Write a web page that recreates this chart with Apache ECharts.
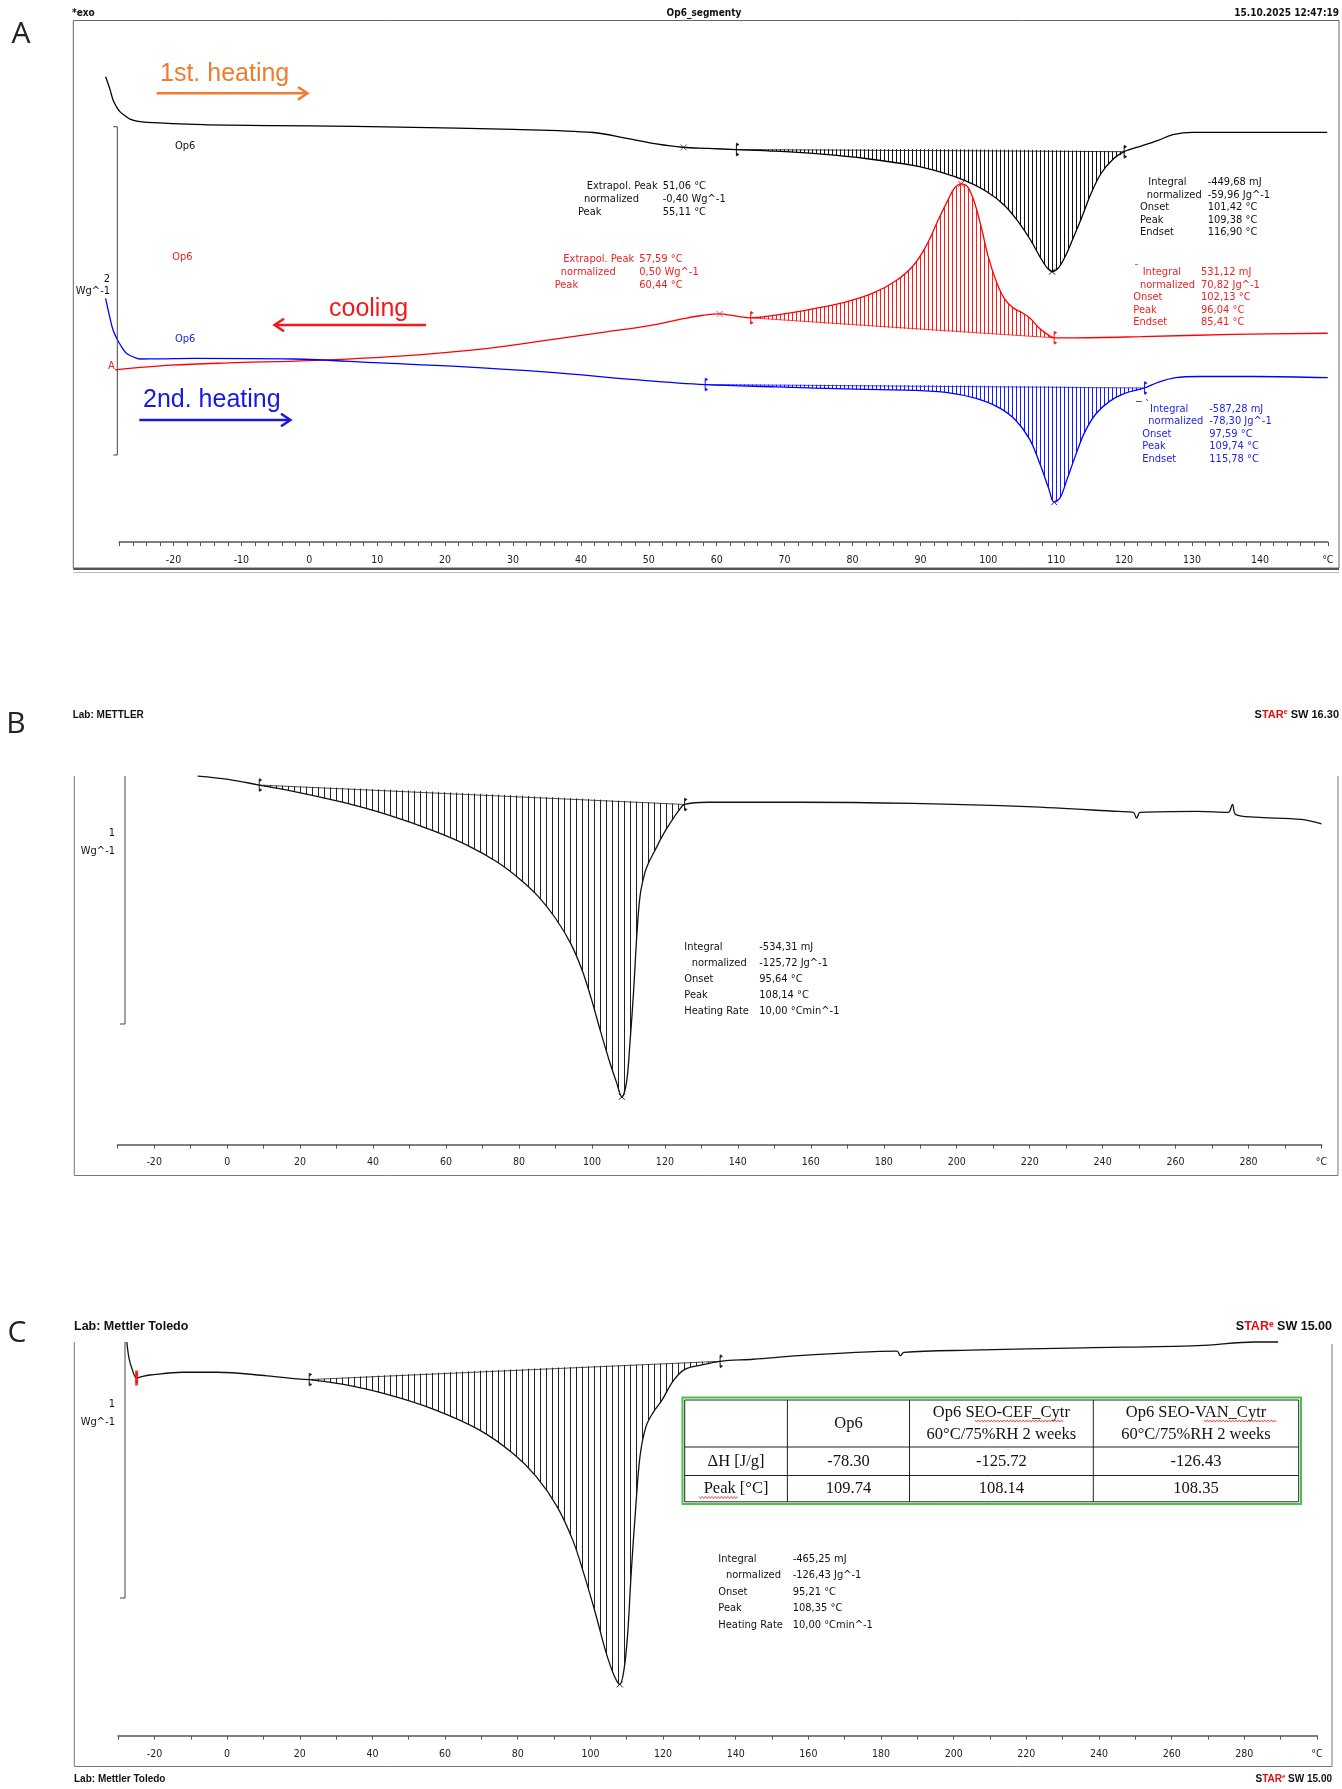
<!DOCTYPE html>
<html><head><meta charset="utf-8">
<script src="https://cdn.jsdelivr.net/npm/echarts@6/dist/echarts.min.js"></script>
<style>html,body{margin:0;padding:0;background:#fff;}#c{width:1342px;height:1789px;}</style>
</head><body><div id="c"></div>
<script>
// ---------- DATA (temperature in °C, heat flow in W/g with display offset) ----------
// Panel A – 1st heating (black)
const tempA1 = [-30.0,-29.4,-28.9,-28.4,-27.9,-27.1,-26.4,-25.2,-23.9,-15.6,-11.9,0,13.3,30.1,41.8,46.6,51.1,55.0,58.7,62.9,68.7,75.5,82.2,88.9,93.1,96.5,99.8,102.4,104.5,106.2,107.7,108.7,109.4,110.3,111.3,112.4,113.8,115.1,116.6,118.3,120.0,122.5,125.0,127.2,130.1,136.0,149.9];
const flowA1 = [2.837,2.766,2.695,2.654,2.624,2.598,2.579,2.565,2.559,2.545,2.542,2.537,2.530,2.516,2.497,2.463,2.428,2.407,2.400,2.393,2.383,2.365,2.337,2.296,2.254,2.205,2.136,2.052,1.948,1.843,1.732,1.670,1.649,1.670,1.739,1.843,1.983,2.122,2.247,2.331,2.380,2.414,2.449,2.484,2.498,2.498,2.498];
// Panel A – cooling (red)
const tempA2 = [-28.6,-20.3,-11.9,0,13.3,25.0,35.1,43.5,50.3,55.3,57.8,60.3,62.9,65.0,68.7,73.8,78.8,83.0,86.4,88.9,90.9,92.6,94.0,95.0,96.0,97.0,98.0,99.0,100.0,101.2,102.4,103.7,105.0,106.2,107.4,108.7,109.7,112.4,122.5,136.0,150.0];
const flowA2 = [1.050,1.078,1.092,1.106,1.134,1.175,1.231,1.280,1.321,1.363,1.381,1.391,1.377,1.367,1.384,1.419,1.461,1.517,1.593,1.683,1.809,1.962,2.080,2.157,2.184,2.163,2.066,1.913,1.739,1.586,1.482,1.426,1.398,1.363,1.308,1.266,1.245,1.245,1.252,1.266,1.273];
// Panel A – 2nd heating (blue)
const tempA3 = [-30.0,-29.4,-28.9,-28.1,-27.4,-26.9,-25.9,-24.9,-22.0,-17.1,-2.4,10.4,21.7,35.1,48.6,58.3,68.7,80.5,88.9,94.0,98.2,101.5,104.0,106.1,107.7,108.9,109.7,110.6,111.6,112.8,114.1,115.8,117.8,120.0,123.0,125.0,127.6,130.9,139.3,150.0];
const flowA3 = [1.486,1.374,1.293,1.221,1.175,1.150,1.128,1.116,1.117,1.120,1.116,1.092,1.071,1.036,0.988,0.960,0.946,0.932,0.925,0.911,0.876,0.821,0.744,0.626,0.466,0.326,0.243,0.271,0.383,0.522,0.661,0.779,0.856,0.905,0.939,0.974,1.002,1.009,1.009,1.002];
// Panel B
const tempB = [-8.1,0.3,8.8,19.1,31.6,44.1,56.6,66.0,73.8,80.1,85.4,90.1,94.2,97.3,99.8,102.3,104.8,106.7,108.2,109.5,110.4,111.4,112.3,113.2,114.5,115.7,117.3,119.2,121.7,123.9,125.4,131.7,156.8,188.0,219.3,244.3,248.4,249.3,250.3,266.2,274.4,275.6,276.5,281.9,294.4,300.0];
const flowB = [1.480,1.467,1.444,1.416,1.375,1.324,1.260,1.201,1.137,1.068,0.995,0.907,0.807,0.701,0.587,0.458,0.335,0.252,0.192,0.252,0.403,0.610,0.839,0.999,1.091,1.137,1.182,1.237,1.297,1.343,1.366,1.375,1.375,1.370,1.357,1.338,1.334,1.311,1.334,1.338,1.334,1.366,1.325,1.315,1.306,1.288];
// Panel C
const tempC = [-27.6,-27.0,-26.1,-24.9,-23.2,-21.2,-12.3,-2.8,11.0,20.1,22.6,31.7,44.3,56.9,69.4,78.8,85.1,90.8,95.2,98.3,101.5,104.3,106.5,108.1,109.3,110.3,111.2,112.5,113.7,115.3,117.2,119.7,122.8,126.0,130.7,135.7,144.8,157.4,173.1,184.4,185.3,186.3,204.5,235.9,267.3,283.0,289.3];
const flowC = [1.550,1.487,1.442,1.408,1.415,1.420,1.431,1.431,1.417,1.404,1.402,1.384,1.343,1.285,1.204,1.110,1.020,0.903,0.768,0.633,0.476,0.328,0.238,0.202,0.265,0.409,0.633,0.903,1.105,1.217,1.271,1.321,1.397,1.442,1.460,1.474,1.482,1.496,1.509,1.514,1.496,1.509,1.518,1.527,1.536,1.550,1.550];
// integration limits (°C)
const hatchA1 = [62.9, 120.0];
const hatchA2 = [65.0, 109.7];
const hatchA3 = [58.3, 123.0];
const hatchB = [8.8, 125.4];
const hatchC = [22.6, 135.7];
// extra peak marks
const extraPeakA1 = [55.11];
const extraPeakA2 = [60.44];
const startMarkC = [-24.9];
// axis label settings
const unitLabel = '°C';
// table
const tableHead = ['', 'Op6', 'Op6 SEO-CEF_Cytr\n60°C/75%RH 2 weeks', 'Op6 SEO-VAN_Cytr\n60°C/75%RH 2 weeks'];
const tableRow1 = ['ΔH [J/g]', '-78.30', '-125.72', '-126.43'];
const tableRow2 = ['Peak [°C]', '109.74', '108.14', '108.35'];

// ---------- helpers ----------
function zip(t, v) { return t.map((x, i) => [x, v[i]]); }
function interp(t, ts, vs) {
  if (t <= ts[0]) return vs[0];
  for (let i = 1; i < ts.length; i++) {
    if (t <= ts[i]) { const f = (t - ts[i-1]) / (ts[i] - ts[i-1]); return vs[i-1] + f * (vs[i] - vs[i-1]); }
  }
  return vs[vs.length - 1];
}
function pattern(step, color) {
  const c = document.createElement('canvas'); c.width = step; c.height = 4;
  const ctx = c.getContext('2d'); ctx.fillStyle = color; ctx.fillRect(0, 0, 1, 4);
  return { image: c, repeat: 'repeat' };
}
const LABEL_FONT = '"Liberation Sans Narrow","DejaVu Sans Condensed",sans-serif';
const ANN_FONT = '11px "DejaVu Sans Condensed","DejaVu Sans",sans-serif';

function lineSeries(idx, ts, vs, color) {
  return { type: 'line', xAxisIndex: idx, yAxisIndex: idx, data: zip(ts, vs), showSymbol: false, symbol: 'none',
    smooth: 0.35, clip: false, silent: true, z: 3,
    lineStyle: { color: color, width: 1.3 } };
}
function hatchSeries(idx, ts, vs, range, color, step) {
  const pat = pattern(step, color);
  return { type: 'custom', xAxisIndex: idx, yAxisIndex: idx, coordinateSystem: 'cartesian2d',
    data: [[range[0], 0]], silent: true, clip: false, z: 2,
    renderItem: function (params, api) {
      const t0 = range[0], t1 = range[1];
      const v0 = interp(t0, ts, vs), v1 = interp(t1, ts, vs);
      const pts = [api.coord([t0, v0])];
      let best = null, bestD = -1;
      for (let i = 0; i < ts.length; i++) {
        if (ts[i] > t0 && ts[i] < t1) {
          pts.push(api.coord([ts[i], vs[i]]));
          const base = v0 + (v1 - v0) * (ts[i] - t0) / (t1 - t0);
          const d = Math.abs(vs[i] - base);
          if (d > bestD) { bestD = d; best = api.coord([ts[i], vs[i]]); }
        }
      }
      const p0 = api.coord([t0, v0]), p1 = api.coord([t1, v1]);
      pts.push(p1);
      const kids = [
        { type: 'polygon', shape: { points: pts, smooth: 0.35 }, style: { fill: pat, stroke: null } },
        { type: 'line', shape: { x1: p0[0], y1: p0[1], x2: p1[0], y2: p1[1] }, style: { stroke: color, lineWidth: 0.8 } }
      ];
      [p0, p1].forEach(p => {
        kids.push({ type: 'line', shape: { x1: p[0], y1: p[1] - 6, x2: p[0], y2: p[1] + 6 }, style: { stroke: color, lineWidth: 1 } });
        kids.push({ type: 'polygon', shape: { points: [[p[0], p[1]-7], [p[0]+3, p[1]-5], [p[0], p[1]-3]] }, style: { fill: color } });
        kids.push({ type: 'polygon', shape: { points: [[p[0], p[1]+3], [p[0]+3, p[1]+5], [p[0], p[1]+7]] }, style: { fill: color } });
      });
      if (best) {
        kids.push({ type: 'line', shape: { x1: best[0]-3, y1: best[1]-3, x2: best[0]+3, y2: best[1]+3 }, style: { stroke: color, lineWidth: 1 } });
        kids.push({ type: 'line', shape: { x1: best[0]-3, y1: best[1]+3, x2: best[0]+3, y2: best[1]-3 }, style: { stroke: color, lineWidth: 1 } });
      }
      return { type: 'group', children: kids };
    } };
}
function markSeries(idx, temps, ts, vs, color, symbol, size) {
  return { type: 'scatter', xAxisIndex: idx, yAxisIndex: idx, silent: true, clip: false, z: 4,
    data: temps.map(t => [t, interp(t, ts, vs)]), symbol: symbol, symbolSize: size,
    itemStyle: { color: color, borderColor: color, borderWidth: 1 } };
}
function xAx(grid, min, max, interval, every, margin) {
  return { type: 'value', gridIndex: grid, min: min, max: max, interval: interval,
    axisLine: { show: true, onZero: false, lineStyle: { color: '#555', width: 1.5 } },
    axisTick: { show: true, length: 4, lineStyle: { color: '#555', width: 1 } },
    splitLine: { show: false },
    axisLabel: { interval: 0, margin: margin, color: '#222', fontSize: 10.5, fontFamily: LABEL_FONT,
      showMinLabel: true, showMaxLabel: true,
      formatter: function (v) { if (Math.abs(v - max) < 1e-6) return unitLabel; return (Math.round(v) % every === 0) ? String(Math.round(v)) : ''; } } };
}
function yAx(grid, max) { return { type: 'value', gridIndex: grid, min: 0, max: max, show: false }; }

function txt(x, y, text, font, fill, align) {
  return { type: 'text', x: x, y: y, silent: true, z: 10,
    style: { text: text, font: font, fill: fill || '#000', align: align || 'left', textAlign: align || 'left', verticalAlign: 'middle', textVerticalAlign: 'middle' } };
}
function ln(x1, y1, x2, y2, stroke, w) {
  return { type: 'line', silent: true, z: 10, shape: { x1: x1, y1: y1, x2: x2, y2: y2 }, style: { stroke: stroke, lineWidth: w || 1 } };
}
function pl(points, stroke, w) {
  return { type: 'polyline', silent: true, z: 10, shape: { points: points }, style: { stroke: stroke, lineWidth: w || 1, fill: null } };
}
function annot(lx, vx, y0, dy, labels, values, color, indents) {
  const out = [];
  labels.forEach((l, i) => {
    out.push(txt(lx + (indents ? indents[i] : 0), y0 + i * dy, l, ANN_FONT, color));
    out.push(txt(vx, y0 + i * dy, values[i], ANN_FONT, color));
  });
  return out;
}
function wavy(x0, x1, y) {
  const pts = []; let i = 0;
  for (let x = x0; x <= x1; x += 1.6, i++) pts.push([x, y + (i % 2 ? 1.1 : -1.1)]);
  return { type: 'polyline', silent: true, z: 11, shape: { points: pts }, style: { stroke: '#e03030', lineWidth: 0.8, fill: null } };
}
function star(x, y, ver, size) {
  return { type: 'text', x: x, y: y, silent: true, z: 10,
    style: { text: '{a|S}{b|TAR}{c|e}{a| SW ' + ver + '}', align: 'right', textAlign: 'right', verticalAlign: 'middle', textVerticalAlign: 'middle',
      rich: { a: { fill: '#111', font: 'bold ' + size + 'px "Liberation Sans",sans-serif' },
              b: { fill: '#e01010', font: 'bold ' + size + 'px "Liberation Sans",sans-serif' },
              c: { fill: '#e01010', font: 'bold ' + (size - 4) + 'px "Liberation Sans",sans-serif', verticalAlign: 'top', padding: [0, 0, 5, 0] } } } };
}

// ---------- graphics ----------
const HDR = 'bold 10px "Liberation Sans Narrow","DejaVu Sans Condensed",sans-serif';
const BIG = '30px "Open Sans","Liberation Sans",sans-serif';
const ARROW = '25px "Liberation Sans",Arial,sans-serif';
const g = [];
// panel A frame
g.push(txt(72, 13.5, '*exo', HDR, '#111'));
g.push(txt(704, 13.5, 'Op6_segmenty', HDR, '#111', 'center'));
g.push(txt(1339, 13.5, '15.10.2025 12:47:19', HDR, '#111', 'right'));
g.push(txt(21, 34, 'A', BIG, '#222', 'center'));
g.push({ type: 'rect', silent: true, z: 9, shape: { x: 73.3, y: 20.5, width: 1265.7, height: 547.5 }, style: { fill: null, stroke: '#666', lineWidth: 1 } });
g.push(ln(73.3, 569, 1339, 569, '#555', 2));
g.push(ln(73.3, 572.5, 1339, 572.5, '#bbb', 1));
g.push(pl([[113.3, 126.7], [117.3, 126.7], [117.3, 455], [113.3, 455]], '#444', 1));
g.push(txt(110, 279, '2', '11px "DejaVu Sans Condensed",sans-serif', '#111', 'right'));
g.push(txt(110, 291, 'Wg^-1', '11px "DejaVu Sans Condensed",sans-serif', '#111', 'right'));
g.push(txt(175, 146.5, 'Op6', ANN_FONT, '#111'));
g.push(txt(172.3, 257.5, 'Op6', ANN_FONT, '#ee2222'));
g.push(txt(175, 339, 'Op6', ANN_FONT, '#2222ee'));
g.push(txt(108, 366, 'A', '10px "DejaVu Sans",sans-serif', '#ee2222'));
// big arrows and labels
g.push(txt(160, 74, '1st. heating', ARROW, '#ED7D31'));
g.push(ln(156.7, 93.3, 306, 93.3, '#ED7D31', 2.5));
g.push(pl([[298, 87], [307.5, 93.3], [298, 99.6]], '#ED7D31', 2.5));
g.push(txt(329, 309, 'cooling', ARROW, '#EE1C1C'));
g.push(ln(276, 325, 426, 325, '#EE1C1C', 2.5));
g.push(pl([[284, 318.7], [274.5, 325], [284, 331.3]], '#EE1C1C', 2.5));
g.push(txt(143, 400, '2nd. heating', ARROW, '#1818E0'));
g.push(ln(139.3, 420, 289.5, 420, '#1818E0', 2.5));
g.push(pl([[281, 413.7], [290.5, 420], [281, 426.3]], '#1818E0', 2.5));
// panel A annotations
g.push(...annot(578, 662.7, 186, 13, ['Extrapol. Peak', 'normalized', 'Peak'], ['51,06 °C', '-0,40 Wg^-1', '55,11 °C'], '#111', [8.7, 6, 0]));
g.push(...annot(554.7, 639.3, 259.3, 12.9, ['Extrapol. Peak', 'normalized', 'Peak'], ['57,59 °C', '0,50 Wg^-1', '60,44 °C'], '#ee2222', [8.6, 6, 0]));
g.push(...annot(1140, 1207.7, 182.3, 12.5, ['Integral', 'normalized', 'Onset', 'Peak', 'Endset'], ['-449,68 mJ', '-59,96 Jg^-1', '101,42 °C', '109,38 °C', '116,90 °C'], '#111', [8.3, 6.7, 0, 0, 0]));
g.push(...annot(1133.3, 1201, 272.3, 12.5, ['Integral', 'normalized', 'Onset', 'Peak', 'Endset'], ['531,12 mJ', '70,82 Jg^-1', '102,13 °C', '96,04 °C', '85,41 °C'], '#ee2222', [9.4, 6.7, 0, 0, 0]));
g.push(txt(1134, 269, '¯', ANN_FONT, '#ee2222'));
g.push(...annot(1142.3, 1209.3, 409, 12.5, ['Integral', 'normalized', 'Onset', 'Peak', 'Endset'], ['-587,28 mJ', '-78,30 Jg^-1', '97,59 °C', '109,74 °C', '115,78 °C'], '#2222ee', [7.7, 6, 0, 0, 0]));
g.push(txt(1145, 405, '`', ANN_FONT, '#2222ee'));
g.push(ln(1136, 401.5, 1142, 401.5, '#555', 1));

// panel B frame
g.push(txt(16, 724, 'B', BIG, '#222', 'center'));
g.push(txt(72.7, 715, 'Lab: METTLER', 'bold 10px "Liberation Sans",Arial,sans-serif', '#111'));
g.push(star(1339, 715, '16.30', 11));
g.push(pl([[74.3, 776], [74.3, 1175.5], [1338, 1175.5], [1338, 776]], '#777', 1));
g.push(pl([[125, 776], [125, 1024], [120, 1024]], '#444', 1));
g.push(txt(115, 833, '1', '11px "DejaVu Sans Condensed",sans-serif', '#111', 'right'));
g.push(txt(115, 851.5, 'Wg^-1', '11px "DejaVu Sans Condensed",sans-serif', '#111', 'right'));
g.push(...annot(684.3, 759.3, 947.3, 15.9, ['Integral', 'normalized', 'Onset', 'Peak', 'Heating Rate'], ['-534,31 mJ', '-125,72 Jg^-1', '95,64 °C', '108,14 °C', '10,00 °Cmin^-1'], '#111', [0, 7.4, 0, 0, 0]));

// panel C frame
g.push(txt(17, 1333, 'C', BIG, '#222', 'center'));
g.push(txt(74, 1327, 'Lab: Mettler Toledo', 'bold 12.5px "Liberation Sans",Arial,sans-serif', '#111'));
g.push(star(1332, 1327, '15.00', 12.5));
g.push(pl([[74.3, 1342], [74.3, 1766.5], [1332, 1766.5], [1332, 1344]], '#777', 1));
g.push(pl([[125, 1342], [125, 1598], [120, 1598]], '#444', 1));
g.push(txt(115, 1404, '1', '11px "DejaVu Sans Condensed",sans-serif', '#111', 'right'));
g.push(txt(115, 1421.7, 'Wg^-1', '11px "DejaVu Sans Condensed",sans-serif', '#111', 'right'));
g.push(...annot(718.3, 792.7, 1559, 16.5, ['Integral', 'normalized', 'Onset', 'Peak', 'Heating Rate'], ['-465,25 mJ', '-126,43 Jg^-1', '95,21 °C', '108,35 °C', '10,00 °Cmin^-1'], '#111', [0, 7.7, 0, 0, 0]));
g.push(txt(74, 1779, 'Lab: Mettler Toledo', 'bold 10px "Liberation Sans",Arial,sans-serif', '#111'));
g.push(star(1332, 1779, '15.00', 10));

// table in panel C
const colX = [684.7, 787.4, 909.5, 1093.3, 1298.7];
const rowY = [1400, 1447, 1475.5, 1501.8];
const TF = '16.5px "Liberation Serif","Times New Roman",serif';
g.push({ type: 'rect', silent: true, z: 10, shape: { x: 682.5, y: 1397.5, width: 618.5, height: 106.5 }, style: { fill: '#fff', stroke: '#4cbf4c', lineWidth: 2 } });
g.push({ type: 'rect', silent: true, z: 10, shape: { x: colX[0], y: rowY[0], width: colX[4] - colX[0], height: rowY[3] - rowY[0] }, style: { fill: null, stroke: '#222', lineWidth: 1 } });
for (let i = 1; i < 4; i++) g.push(ln(colX[i], rowY[0], colX[i], rowY[3], '#222', 1));
for (let j = 1; j < 3; j++) g.push(ln(colX[0], rowY[j], colX[4], rowY[j], '#222', 1));
[tableHead, tableRow1, tableRow2].forEach((row, r) => {
  row.forEach((cell, c) => {
    if (!cell) return;
    const cx = (colX[c] + colX[c + 1]) / 2;
    const lines = cell.split('\n');
    const cy = (rowY[r] + rowY[r + 1]) / 2;
    lines.forEach((s, k) => {
      const yy = lines.length === 1 ? cy : cy + (k - 0.5) * 22;
      g.push(Object.assign(txt(cx, yy, s, TF, '#111', 'center'), { z: 11 }));
    });
  });
});
g.push(wavy(975, 1064, 1421));
g.push(wavy(1204, 1276, 1421));
g.push(wavy(699, 738, 1497.5));

// ---------- option ----------
// grid 0: panel A data (-30..150), grid 3: panel A visible axis (-28..150), same scale
const option = {
  animation: false,
  backgroundColor: '#fff',
  grid: [
    { left: 105.6, top: 17.2, width: 1222.2, height: 524.8 },
    { left: 117.7, top: 771.1, width: 1203.8, height: 373.5 },
    { left: 118.1, top: 1329.3, width: 1198.9, height: 406.4 },
    { left: 119.2, top: 17.2, width: 1208.6, height: 524.8 }
  ],
  xAxis: [
    { type: 'value', gridIndex: 0, min: -30, max: 150, show: false },
    xAx(1, -30, 300, 10, 20, 12),
    xAx(2, -30, 300, 10, 20, 13),
    xAx(3, -28, 150, 2, 10, 13)
  ],
  yAxis: [yAx(0, 3.2), yAx(1, 1.5), yAx(2, 1.6), yAx(3, 3.2)],
  series: [
    hatchSeries(0, tempA1, flowA1, hatchA1, '#111', 4),
    hatchSeries(0, tempA2, flowA2, hatchA2, '#ff1a1a', 4),
    hatchSeries(0, tempA3, flowA3, hatchA3, '#1a1aff', 4),
    hatchSeries(1, tempB, flowB, hatchB, '#222', 6),
    hatchSeries(2, tempC, flowC, hatchC, '#222', 6),
    lineSeries(0, tempA1, flowA1, '#000'),
    lineSeries(0, tempA2, flowA2, '#ff0000'),
    lineSeries(0, tempA3, flowA3, '#0000ff'),
    lineSeries(1, tempB, flowB, '#111'),
    lineSeries(2, tempC, flowC, '#111'),
    markSeries(0, extraPeakA1, tempA1, flowA1, '#333', 'path://M0,0L10,10M10,0L0,10', 6),
    markSeries(0, extraPeakA2, tempA2, flowA2, '#ff3333', 'path://M0,0L10,10M10,0L0,10', 6),
    markSeries(2, startMarkC, tempC, flowC, '#ff0000', 'rect', [2, 10])
  ],
  graphic: { elements: g }
};
const chart = echarts.init(document.getElementById('c'), null, { renderer: 'canvas', width: 1342, height: 1789 });
chart.setOption(option);
</script>
</body></html>
